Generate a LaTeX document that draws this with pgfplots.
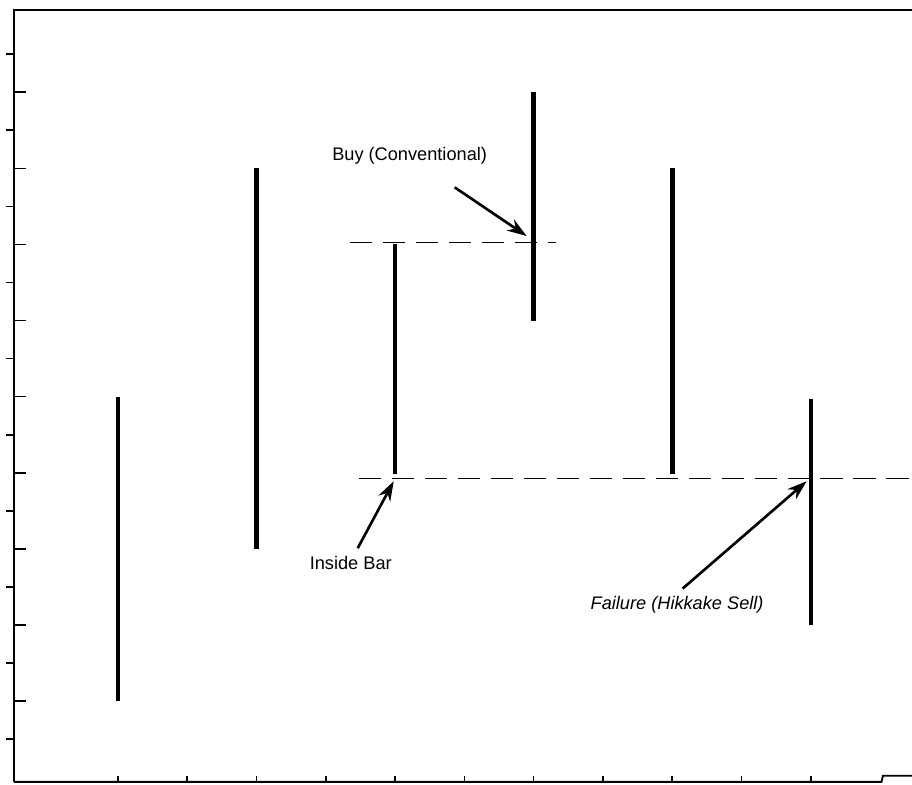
\documentclass[border=0pt]{standalone}
\usepackage{pgfplots}
\pgfplotsset{compat=1.18}
\usetikzlibrary{arrows.meta}
\usepackage{fontspec}
\setmainfont{Liberation Sans}
\pgfplotsset{
  frame/.style={
    scale only axis,
    width=11.97cm, height=10.29cm,
    xmin=-0.5, xmax=12.46,
    ymin=-0.06, ymax=10.08,
    axis line style={draw=none},
    xticklabels={}, yticklabels={},
    ytick pos=left, xtick pos=bottom,
    tick style={black, line width=0.6pt},
    clip=false,
  },
  pricebar/.style={black, line width=1.7pt, mark=none},
  level/.style={black, line width=0.5pt, mark=none, dash pattern=on 8.5pt off 4pt},
}
\begin{document}
\begin{tikzpicture}
  % half-unit ticks, pointing out
  \begin{axis}[frame,
      xtick=\empty,
      ytick={0.5,1.5,...,9.5},
      tick align=outside, major tick length=3pt]
  \end{axis}
  % bottom ticks, short, pointing in
  \begin{axis}[frame,
      xtick={1,...,11},
      ytick=\empty,
      tick align=inside, major tick length=2.3pt]
  \end{axis}
  % whole-unit ticks, pointing in
  \begin{axis}[frame,
      name=ax,
      xtick=\empty,
      ytick={1,...,9},
      tick align=outside, major tick length=-4.5pt]
    % price bars (high-low)
    \addplot[pricebar] coordinates {(1,1) (1,5)};
    \addplot[pricebar] coordinates {(3,3) (3,8)};
    \addplot[pricebar] coordinates {(5,3.98) (5,7)};
    \addplot[pricebar] coordinates {(7,6) (7,9)};
    \addplot[pricebar] coordinates {(9,3.98) (9,8)};
    \addplot[pricebar] coordinates {(11,2) (11,4.97)};
    % inside bar high / low levels
    \addplot[level] coordinates {(4.35,7.03) (7.32,7.03)};
    \addplot[level] coordinates {(4.48,3.93) (12.46,3.93)};
    % frame
    \draw[line width=0.7pt] (rel axis cs:0,0) -- (rel axis cs:0,1) -- (rel axis cs:1,1);
    \draw[line width=0.7pt] (rel axis cs:0,0) -- (axis cs:12.02,-0.06)
      -- (axis cs:12.04,0.02) -- (axis cs:12.46,0.02);
    % annotations
    \begin{scope}[font=\fontsize{6.9}{8}\selectfont]
      \node at (axis cs:5.21,8.17) {Buy (Conventional)};
      \node at (axis cs:4.36,2.81) {Inside Bar};
      \node at (axis cs:9.07,2.27) {\itshape Failure (Hikkake Sell)};
    \end{scope}
    \begin{scope}[line width=1pt, -{Stealth[length=7.5pt,width=5pt]}]
      \draw (axis cs:5.86,7.75) -- (axis cs:6.90,7.11);
      \draw (axis cs:4.46,3.01) -- (axis cs:4.98,3.89);
      \draw (axis cs:9.15,2.48) -- (axis cs:10.94,3.89);
    \end{scope}
  \end{axis}
  \pgfresetboundingbox
  \path[use as bounding box] ([xshift=-0.187cm,yshift=-0.04cm]ax.south west)
    rectangle ([yshift=0.133cm]ax.north east);
\end{tikzpicture}
\end{document}
